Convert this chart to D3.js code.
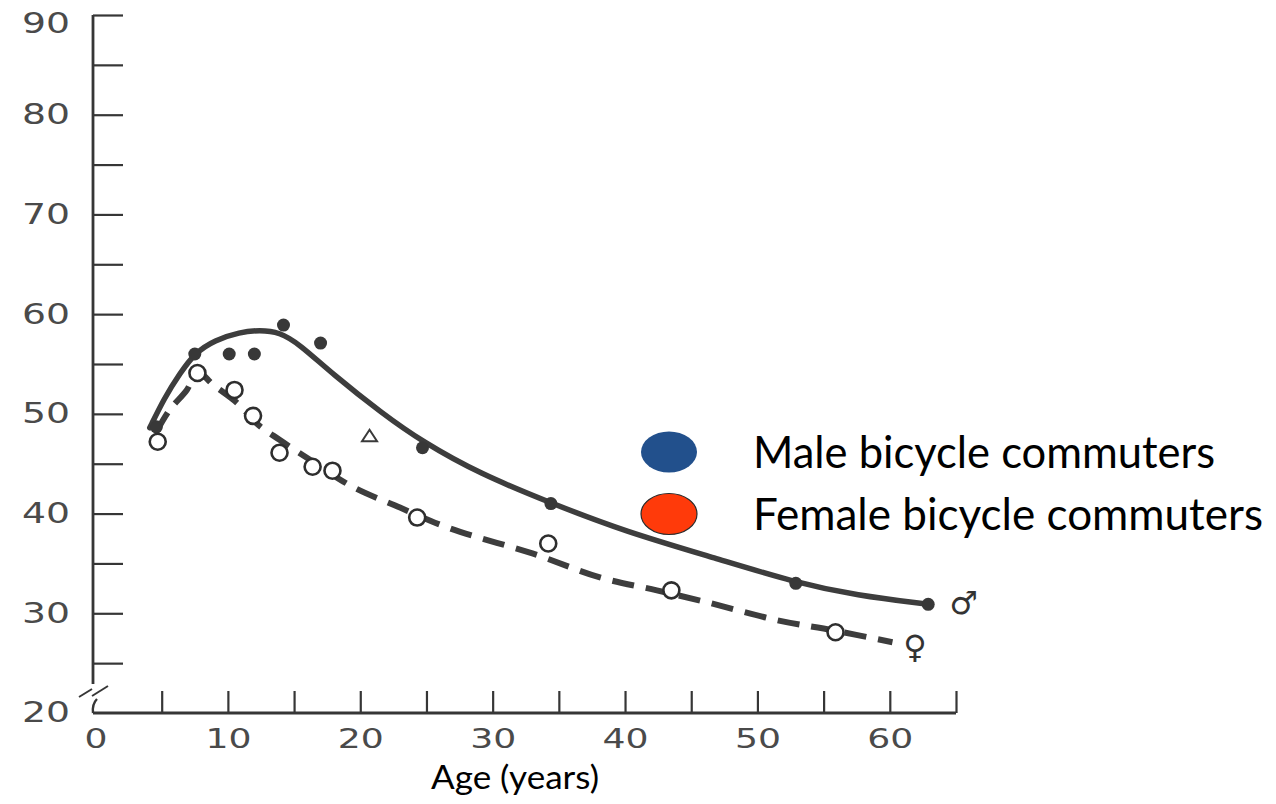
<!DOCTYPE html>
<html>
<head>
<meta charset="utf-8">
<script src="https://cdn.jsdelivr.net/npm/d3@7"></script>
<style>
  html, body { margin: 0; padding: 0; background: #ffffff; }
  svg { display: block; }
</style>
</head>
<body>
<svg id="chart" width="1276" height="804"></svg>
<script>
// ---------- data ----------
const xTickValues = [0, 5, 10, 15, 20, 25, 30, 35, 40, 45, 50, 55, 60, 65];
const xTickLabels = ["0", "", "10", "", "20", "", "30", "", "40", "", "50", "", "60", ""];
const yTickValues = [20, 25, 30, 35, 40, 45, 50, 55, 60, 65, 70, 75, 80, 85, 90];
const yTickLabels = ["20", "", "30", "", "40", "", "50", "", "60", "", "70", "", "80", "", "90"];

// observed points
const maleAges   = [4.6, 7.5, 10.1, 12.0, 14.2, 17.0, 24.7, 34.4, 52.9, 62.9];
const maleValues = [48.7, 56.0, 56.0, 56.0, 58.9, 57.1, 46.6, 41.0, 33.0, 30.9];
const femaleAges   = [4.7, 7.7, 10.5, 11.9, 13.9, 16.4, 17.9, 24.3, 34.2, 43.5, 55.9];
const femaleValues = [47.2, 54.1, 52.4, 49.8, 46.1, 44.7, 44.3, 39.6, 37.0, 32.3, 28.1];
const triangleAges   = [20.7];
const triangleValues = [47.8];

// fitted curves
const maleCurveAges   = [4.1, 5.2, 6.4, 7.5, 9.0, 10.9, 12.4, 13.9, 15.4, 17.9, 21.7, 24.7, 29.0, 34.5, 40.0, 46.9, 52.8, 57.5, 62.9];
const maleCurveValues = [48.6, 51.6, 54.1, 56.1, 57.4, 58.2, 58.4, 58.2, 57.0, 54.0, 50.0, 47.2, 44.0, 41.0, 38.2, 35.5, 33.1, 31.8, 30.9];
const femaleCurveAges   = [4.6, 5.6, 6.9, 7.7, 8.9, 10.7, 12.2, 13.9, 16.2, 19.4, 23.0, 26.8, 33.0, 38.1, 42.4, 46.2, 51.5, 55.7, 60.2];
const femaleCurveValues = [48.2, 50.4, 52.4, 54.2, 52.9, 51.1, 49.0, 47.4, 45.4, 42.7, 40.6, 38.5, 36.0, 33.6, 32.3, 31.1, 29.3, 28.3, 27.1];

// sex symbols at the curve ends
const symbolTexts  = ["\u2642", "\u2640"];
const symbolAges   = [65.6, 61.9];
const symbolValues = [31.0, 26.6];

const legendLabels = ["Male bicycle commuters", "Female bicycle commuters"];
const legendColors = ["#22508c", "#ff3a0a"];
const xAxisTitle = "Age (years)";

// ---------- drawing ----------
const svg = d3.select("#chart");
const ink = "#363636";

const x = d3.scaleLinear().domain([0, 65]).range([95.5, 956]);
const y = d3.scaleLinear().domain([20, 90]).range([713, 15]);
const axisX0 = 93;

// Y axis (ticks point inward, labels on the left)
const yAxis = d3.axisLeft(y)
  .tickValues(yTickValues)
  .tickSizeInner(-30)
  .tickSizeOuter(0)
  .tickPadding(23)
  .tickFormat((d, i) => yTickLabels[i]);

const gy = svg.append("g").attr("transform", `translate(${axisX0},0)`).call(yAxis);
gy.select(".domain").remove();
gy.selectAll(".tick line").attr("stroke", ink).attr("stroke-width", 2.2);
gy.selectAll(".tick").filter(d => d === 20).select("line").remove();
gy.selectAll(".tick text")
  .attr("font-family", "DejaVu Sans, sans-serif")
  .attr("font-size", 28)
  .attr("fill", "#4a4a4a")
  .each(function () {
    const t = d3.select(this).text();
    if (t.length === 2) d3.select(this).attr("textLength", 48).attr("lengthAdjust", "spacingAndGlyphs");
  });
gy.selectAll(".tick").filter(d => d === 90).select("text").attr("dy", "0.62em");

// Y axis line with break
svg.append("line").attr("x1", axisX0).attr("x2", axisX0).attr("y1", y(90)).attr("y2", 684)
  .attr("stroke", ink).attr("stroke-width", 2.8);
svg.append("line").attr("x1", 79).attr("y1", 697).attr("x2", 92).attr("y2", 689)
  .attr("stroke", ink).attr("stroke-width", 2);
svg.append("line").attr("x1", 92).attr("y1", 696).attr("x2", 108).attr("y2", 686)
  .attr("stroke", ink).attr("stroke-width", 2);
svg.append("path").attr("d", `M97,699 Q92,704 93,${y(20)}`)
  .attr("fill", "none").attr("stroke", ink).attr("stroke-width", 2.4);

// X axis (ticks point up)
const xAxis = d3.axisBottom(x)
  .tickValues(xTickValues)
  .tickSizeInner(-22)
  .tickSizeOuter(0)
  .tickPadding(16)
  .tickFormat((d, i) => xTickLabels[i]);

const gx = svg.append("g").attr("transform", `translate(0,${y(20)})`).call(xAxis);
gx.select(".domain").remove();
gx.selectAll(".tick line").attr("stroke", ink).attr("stroke-width", 2.2);
gx.selectAll(".tick").filter(d => d === 0).select("line").remove();
gx.selectAll(".tick text")
  .attr("font-family", "DejaVu Sans, sans-serif")
  .attr("font-size", 27)
  .attr("fill", "#4a4a4a")
  .each(function () {
    const t = d3.select(this).text();
    if (t.length === 2) d3.select(this).attr("textLength", 46).attr("lengthAdjust", "spacingAndGlyphs");
    if (t.length === 1) d3.select(this).attr("textLength", 23).attr("lengthAdjust", "spacingAndGlyphs");
  });
svg.append("line").attr("x1", axisX0).attr("x2", x(65)).attr("y1", y(20)).attr("y2", y(20))
  .attr("stroke", ink).attr("stroke-width", 2.8);

// curves
const maleLine = d3.line().x(d => x(d[0])).y(d => y(d[1])).curve(d3.curveBasis);
const femaleLine = d3.line().x(d => x(d[0])).y(d => y(d[1])).curve(d3.curveCatmullRom.alpha(0.5));
svg.append("path")
  .datum(maleCurveAges.map((a, i) => [a, maleCurveValues[i]]))
  .attr("d", maleLine).attr("fill", "none").attr("stroke", "#3d3d3d")
  .attr("stroke-width", 5.5).attr("stroke-linecap", "round").attr("stroke-linejoin", "round");
svg.append("path")
  .datum(femaleCurveAges.map((a, i) => [a, femaleCurveValues[i]]))
  .attr("d", femaleLine).attr("fill", "none").attr("stroke", "#3d3d3d")
  .attr("stroke-width", 6).attr("stroke-dasharray", "22,12");

// male points
svg.append("g").selectAll("circle")
  .data(maleAges.map((a, i) => [a, maleValues[i]]))
  .join("circle")
  .attr("cx", d => x(d[0])).attr("cy", d => y(d[1])).attr("r", 6.5)
  .attr("fill", "#383838");

// female points
svg.append("g").selectAll("circle")
  .data(femaleAges.map((a, i) => [a, femaleValues[i]]))
  .join("circle")
  .attr("cx", d => x(d[0])).attr("cy", d => y(d[1])).attr("r", 8)
  .attr("fill", "#ffffff").attr("stroke", "#2e2e2e").attr("stroke-width", 2.6);

// triangle
svg.append("g").selectAll("path")
  .data(triangleAges.map((a, i) => [a, triangleValues[i]]))
  .join("path")
  .attr("transform", d => `translate(${x(d[0])},${y(d[1])})`)
  .attr("d", "M0,-6 L7.5,5.5 L-7.5,5.5 Z")
  .attr("fill", "#ffffff").attr("stroke", "#3a3a3a").attr("stroke-width", 2);

// sex symbols
svg.append("g").selectAll("text")
  .data(symbolTexts)
  .join("text")
  .attr("x", (d, i) => x(symbolAges[i])).attr("y", (d, i) => y(symbolValues[i]))
  .attr("text-anchor", "middle").attr("dominant-baseline", "central")
  .attr("font-family", "DejaVu Sans, sans-serif").attr("font-size", 32)
  .attr("fill", "#333").text(d => d);

// legend
const legend = svg.append("g");
legendLabels.forEach((lab, i) => {
  const cy = 452 + i * 62;
  legend.append("ellipse").attr("cx", 669).attr("cy", cy).attr("rx", 28).attr("ry", 20.5)
    .attr("fill", legendColors[i]).attr("stroke", i === 1 ? "#2a2a2a" : "none").attr("stroke-width", 1.2);
  legend.append("text").attr("x", 753).attr("y", cy + 16)
    .attr("font-family", "Lato, 'Open Sans', sans-serif").attr("font-size", 45)
    .attr("fill", "#000")
    .attr("textLength", i === 0 ? 462 : 510).attr("lengthAdjust", "spacingAndGlyphs")
    .text(lab);
});

// x axis title
svg.append("text").attr("x", 515).attr("y", 789).attr("text-anchor", "middle")
  .attr("font-family", "Lato, 'Open Sans', sans-serif").attr("font-size", 32)
  .attr("fill", "#000").attr("textLength", 168).attr("lengthAdjust", "spacingAndGlyphs")
  .text(xAxisTitle);
</script>
</body>
</html>
